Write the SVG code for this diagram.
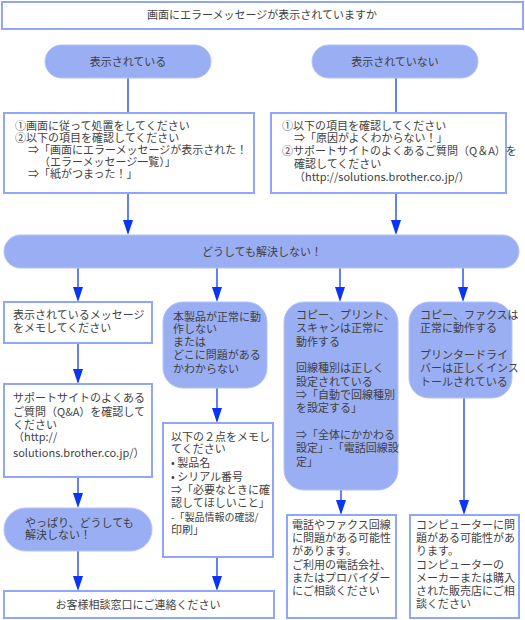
<svg xmlns="http://www.w3.org/2000/svg" width="525" height="620" viewBox="0 0 525 620">
<defs>
<style>
.box{fill:#fff;stroke:#8fa7f6;stroke-width:2}
.pill{fill:#9aaef3;stroke:#b4c3f6;stroke-width:1}
text{font-family:"Noto Sans CJK JP","Noto Sans",sans-serif;font-size:11px;fill:#3f3f3f}
.c{text-anchor:middle}
.ln{stroke:#2f57f2;stroke-width:1.5;fill:none}
.ar{fill:#0a35f5}
</style>
</defs>
<rect width="525" height="620" fill="#fff"/>
<g id="connectors">
<line class="ln" x1="128" y1="78" x2="128" y2="113"/>
<line class="ln" x1="396" y1="78" x2="396" y2="113"/>
<line class="ln" x1="128" y1="193" x2="128" y2="222"/><path class="ar" d="M123,220 L133,220 L128,235 Z"/>
<line class="ln" x1="396" y1="193" x2="396" y2="222"/><path class="ar" d="M391,220 L401,220 L396,235 Z"/>
<line class="ln" x1="78" y1="268" x2="78" y2="290"/><path class="ar" d="M73,287 L83,287 L78,302 Z"/>
<line class="ln" x1="217" y1="268" x2="217" y2="290"/><path class="ar" d="M212,287 L222,287 L217,302 Z"/>
<line class="ln" x1="340" y1="268" x2="340" y2="290"/><path class="ar" d="M335,287 L345,287 L340,302 Z"/>
<line class="ln" x1="463" y1="268" x2="463" y2="290"/><path class="ar" d="M458,287 L468,287 L463,302 Z"/>
<line class="ln" x1="78" y1="343" x2="78" y2="372"/><path class="ar" d="M73,369 L83,369 L78,384 Z"/>
<line class="ln" x1="78" y1="477" x2="78" y2="496"/><path class="ar" d="M73,493 L83,493 L78,508 Z"/>
<line class="ln" x1="78" y1="551" x2="78" y2="579"/><path class="ar" d="M73,576 L83,576 L78,591 Z"/>
<line class="ln" x1="217" y1="388" x2="217" y2="411"/><path class="ar" d="M212,408 L222,408 L217,423 Z"/>
<line class="ln" x1="217" y1="557" x2="217" y2="579"/><path class="ar" d="M212,576 L222,576 L217,591 Z"/>
<line class="ln" x1="341" y1="490" x2="341" y2="503"/><path class="ar" d="M336,500 L346,500 L341,515 Z"/>
<line class="ln" x1="464" y1="398" x2="464" y2="503"/><path class="ar" d="M459,500 L469,500 L464,515 Z"/>
</g>
<g id="q">
<rect class="box" x="2" y="2" width="521" height="27"/>
<text class="c" x="262" y="19">画面にエラーメッセージが表示されていますか</text>
</g>
<g id="yes">
<rect class="pill" x="45" y="45" width="166" height="33" rx="16.5"/>
<text class="c" x="128" y="66">表示されている</text>
</g>
<g id="no">
<rect class="pill" x="312" y="45" width="166" height="33" rx="16.5"/>
<text class="c" x="395" y="66">表示されていない</text>
</g>
<g id="yesbox">
<rect class="box" x="4" y="113" width="250" height="80"/>
<text><tspan x="15" y="130">①画面に従って処置をしてください</tspan><tspan x="15" y="142">②以下の項目を確認してください</tspan><tspan x="28" y="154">⇒「画面にエラーメッセージが表示された！</tspan><tspan x="39" y="166">（エラーメッセージ一覧）」</tspan><tspan x="28" y="178">⇒「紙がつまった！」</tspan></text>
</g>
<g id="nobox">
<rect class="box" x="271" y="113" width="235" height="80"/>
<text><tspan x="282" y="130">①以下の項目を確認してください</tspan><tspan x="294" y="142">⇒「原因がよくわからない！」</tspan><tspan x="282" y="155">②サポートサイトのよくあるご質問（Q＆A）を</tspan><tspan x="294" y="168">確認してください</tspan><tspan x="294" y="181">（http://solutions.brother.co.jp/）</tspan></text>
</g>
<g id="unsolved">
<rect class="pill" x="4" y="235" width="515" height="33" rx="16.5"/>
<text class="c" x="262" y="256">どうしても解決しない！</text>
</g>
<g id="memo">
<rect class="box" x="4" y="302" width="148" height="41"/>
<text><tspan x="13" y="319">表示されているメッセージ</tspan><tspan x="13" y="332">をメモしてください</tspan></text>
</g>
<g id="faq">
<rect class="box" x="4" y="384" width="148" height="93"/>
<text><tspan x="13" y="402">サポートサイトのよくある</tspan><tspan x="13" y="416">ご質問（Q&amp;A）を確認して</tspan><tspan x="13" y="429">ください</tspan><tspan x="13" y="441">（http://</tspan><tspan x="13" y="457">solutions.brother.co.jp/）</tspan></text>
</g>
<g id="still">
<rect class="pill" x="4" y="508" width="148" height="43" rx="21.5"/>
<text><tspan x="25" y="527">やっぱり、どうしても</tspan><tspan x="25" y="539">解決しない！</tspan></text>
</g>
<g id="contact">
<rect class="box" x="4" y="591" width="270" height="27"/>
<text class="c" x="138" y="609">お客様相談窓口にご連絡ください</text>
</g>
<g id="prod">
<rect class="pill" x="163" y="302" width="104" height="86" rx="20"/>
<text><tspan x="173" y="321">本製品が正常に動</tspan><tspan x="173" y="333">作しない</tspan><tspan x="173" y="346">または</tspan><tspan x="173" y="359">どこに問題がある</tspan><tspan x="173" y="373">かわからない</tspan></text>
</g>
<g id="memo2">
<rect class="box" x="163" y="423" width="110" height="134"/>
<text><tspan x="171" y="441">以下の２点をメモし</tspan><tspan x="171" y="453">てください</tspan><tspan x="171" y="467">• 製品名</tspan><tspan x="171" y="481">• シリアル番号</tspan><tspan x="171" y="494">⇒「必要なときに確</tspan><tspan x="171" y="507">認してほしいこと」</tspan><tspan x="171" y="521" style="font-size:10px">-「製品情報の確認/</tspan><tspan x="171" y="534">印刷」</tspan></text>
</g>
<g id="fax">
<rect class="pill" x="284" y="302" width="114" height="188" rx="20"/>
<text><tspan x="296" y="319">コピー、プリント、</tspan><tspan x="296" y="332">スキャンは正常に</tspan><tspan x="296" y="346">動作する</tspan><tspan x="296" y="372">回線種別は正しく</tspan><tspan x="296" y="386">設定されている</tspan><tspan x="296" y="399">⇒「自動で回線種別</tspan><tspan x="296" y="412">を設定する」</tspan><tspan x="296" y="439">⇒「全体にかかわる</tspan><tspan x="296" y="452">設定」-「電話回線設</tspan><tspan x="296" y="466">定」</tspan></text>
</g>
<g id="faxbox">
<rect class="box" x="287" y="515" width="109" height="103"/>
<text><tspan x="292" y="529">電話やファクス回線</tspan><tspan x="292" y="542">に問題がある可能性</tspan><tspan x="292" y="555">があります。</tspan><tspan x="292" y="569">ご利用の電話会社、</tspan><tspan x="292" y="582">またはプロバイダー</tspan><tspan x="292" y="595">にご相談ください</tspan></text>
</g>
<g id="pc">
<rect class="pill" x="409" y="302" width="103" height="96" rx="20"/>
<text><tspan x="420" y="319">コピー、ファクスは</tspan><tspan x="420" y="332">正常に動作する</tspan><tspan x="420" y="359">プリンタードライ</tspan><tspan x="420" y="372">バーは正しくインス</tspan><tspan x="420" y="386">トールされている</tspan></text>
</g>
<g id="pcbox">
<rect class="box" x="410" y="515" width="109" height="103"/>
<text><tspan x="416" y="529">コンピューターに問</tspan><tspan x="416" y="542">題がある可能性があ</tspan><tspan x="416" y="555">ります。</tspan><tspan x="416" y="569">コンピューターの</tspan><tspan x="416" y="582">メーカーまたは購入</tspan><tspan x="416" y="595">された販売店にご相</tspan><tspan x="416" y="608">談ください</tspan></text>
</g>
</svg>
